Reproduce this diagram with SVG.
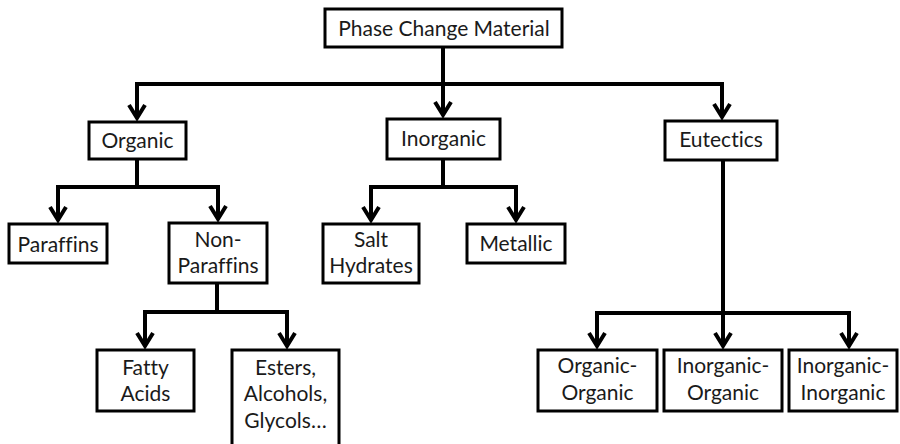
<svg xmlns="http://www.w3.org/2000/svg" width="900" height="444" viewBox="0 0 900 444">
<style>
.box{fill:#fff;stroke:#000;stroke-width:3}
.lbl{font-family:Lato,"Open Sans",sans-serif;font-size:21px;fill:#1a1a1a;text-anchor:middle;font-variant-ligatures:none}
.con{fill:none;stroke:#000;stroke-width:4;stroke-linejoin:miter;marker-end:url(#arr)}
</style>
<defs>
<marker id="arr" markerUnits="userSpaceOnUse" markerWidth="30" markerHeight="30" viewBox="-20 -15 30 30" refX="0" refY="0" orient="auto" overflow="visible">
<path d="M-13,-8 L0,0 L-13,8" fill="none" stroke="#000" stroke-width="4" stroke-linejoin="miter"/>
</marker>
</defs>
<g id="connectors">
<path class="con" d="M443,47 V84 H137 V118"/>
<path class="con" d="M443,84 V115"/>
<path class="con" d="M443,84 H722 V117"/>
<path class="con" d="M137,159 V187 H58 V220"/>
<path class="con" d="M137,187 H218 V219"/>
<path class="con" d="M443,159 V187 H371 V220"/>
<path class="con" d="M443,187 H516 V220"/>
<path class="con" d="M217,283 V312 H145 V346"/>
<path class="con" d="M217,312 H287 V346"/>
<path class="con" d="M723,160 V313 H597 V346"/>
<path class="con" d="M723,313 V346"/>
<path class="con" d="M723,313 H849 V346"/>
</g>
<g id="pcm"><rect class="box" x="325" y="9" width="237" height="38"/><text class="lbl" x="444" y="36">Phase Change Material</text></g>
<g id="organic"><rect class="box" x="89" y="122" width="97" height="37"/><text class="lbl" x="137.5" y="148">Organic</text></g>
<g id="inorganic"><rect class="box" x="387" y="119" width="113" height="40"/><text class="lbl" x="443.5" y="146">Inorganic</text></g>
<g id="eutectics"><rect class="box" x="665" y="121" width="112" height="39"/><text class="lbl" x="721" y="147">Eutectics</text></g>
<g id="paraffins"><rect class="box" x="9" y="224" width="98" height="39"/><text class="lbl" x="58" y="252">Paraffins</text></g>
<g id="nonparaffins"><rect class="box" x="169" y="223" width="98" height="60"/><text class="lbl" x="218" y="247">Non-</text><text class="lbl" x="218" y="273">Paraffins</text></g>
<g id="salthydrates"><rect class="box" x="323" y="224" width="96" height="59"/><text class="lbl" x="371" y="247">Salt</text><text class="lbl" x="371" y="273">Hydrates</text></g>
<g id="metallic"><rect class="box" x="467" y="224" width="98" height="39"/><text class="lbl" x="516" y="251">Metallic</text></g>
<g id="fattyacids"><rect class="box" x="97" y="350" width="97" height="61"/><text class="lbl" x="145.5" y="375">Fatty</text><text class="lbl" x="145.5" y="401">Acids</text></g>
<g id="esters"><rect class="box" x="232" y="350" width="107" height="100"/><text class="lbl" x="285.5" y="375">Esters,</text><text class="lbl" x="285.5" y="401">Alcohols,</text><text class="lbl" x="285.5" y="428">Glycols…</text></g>
<g id="orgorg"><rect class="box" x="538" y="350" width="119" height="61"/><text class="lbl" x="597.5" y="373">Organic-</text><text class="lbl" x="597.5" y="400">Organic</text></g>
<g id="inorgorg"><rect class="box" x="664" y="350" width="118" height="61"/><text class="lbl" x="723" y="373">Inorganic-</text><text class="lbl" x="723" y="400">Organic</text></g>
<g id="inorginorg"><rect class="box" x="789" y="350" width="108" height="61"/><text class="lbl" x="843" y="373">Inorganic-</text><text class="lbl" x="843" y="400">Inorganic</text></g>
</svg>
